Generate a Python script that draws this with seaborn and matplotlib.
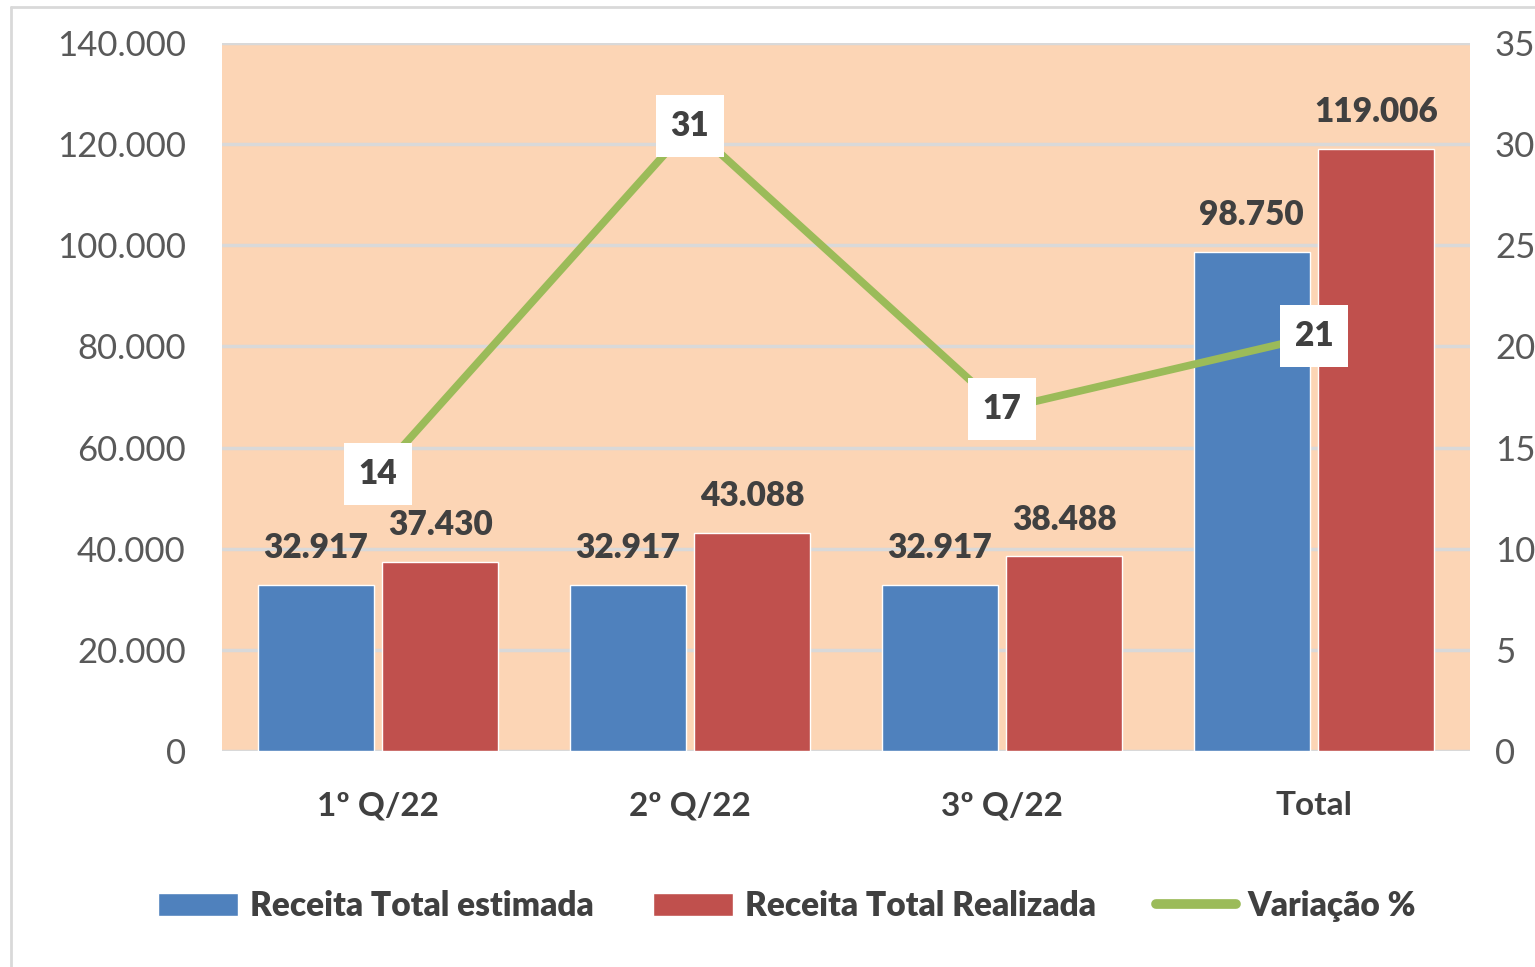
#!/usr/bin/env python3
# -*- coding: utf-8 -*-

import numpy as np
import pandas as pd
import matplotlib
matplotlib.use("Agg")
import matplotlib.pyplot as plt
from matplotlib import font_manager
from matplotlib.lines import Line2D
from matplotlib.patches import Patch
import seaborn as sns

# dados
categorias = ["1º Q/22", "2º Q/22", "3º Q/22", "Total"]
receita_estimada = [32917, 32917, 32917, 98750]
receita_realizada = [37430, 43088, 38488, 119006]
variacao = [13.7, 30.9, 16.9, 20.5]
series = ["Receita Total estimada", "Receita Total Realizada"]
y_ticks = [0, 20000, 40000, 60000, 80000, 100000, 120000, 140000]
y2_ticks = [0, 5, 10, 15, 20, 25, 30, 35]

AZUL = "#4F81BD"
VERMELHO = "#C0504D"
VERDE = "#9BBB59"
FUNDO = "#FCD5B5"
GRADE = "#D9D9D9"
TEXTO = "#404040"
TICK = "#595959"

sns.set_style("white")
nomes = {f.name for f in font_manager.fontManager.ttflist}
fonte = "Lato" if "Lato" in nomes else "DejaVu Sans"
plt.rcParams["font.family"] = [fonte, "DejaVu Sans"]


def milhar(v):
    return f"{v:,.0f}".replace(",", ".")


df = pd.DataFrame({
    "categoria": categorias * 2,
    "serie": [series[0]] * len(categorias) + [series[1]] * len(categorias),
    "valor": receita_estimada + receita_realizada,
})

fig = plt.figure(figsize=(15.35, 9.67), dpi=100)
ax = fig.add_axes([222 / 1535, 1 - 751 / 967, (1470 - 222) / 1535, (751 - 43) / 967])
ax.set_facecolor(FUNDO)

sns.barplot(data=df, x="categoria", y="valor", hue="serie",
            palette=[AZUL, VERMELHO], width=0.8, gap=0.07,
            saturation=1, ax=ax, legend=False)

ax.set_ylim(0, 140000)
ax.set_xlim(-0.5, len(categorias) - 0.5)
ax.set_yticks(y_ticks)
ax.set_yticklabels([milhar(t) for t in y_ticks], fontsize=25, color=TICK)
ax.yaxis.grid(True, color=GRADE, linewidth=2.5)
ax.set_axisbelow(True)
ax.tick_params(axis="y", length=0, pad=26)
ax.tick_params(axis="x", length=0, pad=29)
for lbl in ax.get_xticklabels():
    lbl.set_fontweight("bold")
    lbl.set_fontsize(24)
    lbl.set_color(TEXTO)
ax.set_xlabel("")
ax.set_ylabel("")
for s in ax.spines.values():
    s.set_visible(False)

for cont, vals in zip(ax.containers, [receita_estimada, receita_realizada]):
    ax.bar_label(cont, labels=[milhar(v) for v in vals], padding=15,
                 fontsize=24, fontweight="heavy", color=TEXTO)

# eixo secundario com a variacao
ax2 = ax.twinx()
sns.lineplot(x=np.arange(len(categorias)), y=variacao, color=VERDE,
             linewidth=5.5, ax=ax2)
ax2.set_ylim(0, 35)
ax2.set_yticks(y2_ticks)
ax2.set_yticklabels([str(t) for t in y2_ticks], fontsize=25, color=TICK)
ax2.tick_params(axis="y", length=0, pad=18)
for s in ax2.spines.values():
    s.set_visible(False)

for i, v in enumerate(variacao):
    ax2.text(i, v, str(int(v + 0.5)), ha="center", va="center",
             fontsize=24, fontweight="heavy", color=TEXTO,
             bbox=dict(boxstyle="square,pad=0.45", fc="white", ec="none"))

handles = [
    Patch(facecolor=AZUL, label=series[0]),
    Patch(facecolor=VERMELHO, label=series[1]),
    Line2D([0], [0], color=VERDE, linewidth=7, solid_capstyle="round", label="Variação %"),
]
leg = fig.legend(handles=handles, loc="center", bbox_to_anchor=(787 / 1535, 1 - 906 / 967),
                 ncol=3, frameon=False, handlelength=2.4, handleheight=0.7,
                 handletextpad=0.35, columnspacing=1.8,
                 prop={"family": fonte, "weight": "heavy", "size": 24})
for t in leg.get_texts():
    t.set_color(TEXTO)

# moldura cinza do grafico
fig.add_artist(Line2D([11 / 1535, 11 / 1535], [0, 1 - 7 / 967], color=GRADE, linewidth=2,
                      transform=fig.transFigure))
fig.add_artist(Line2D([11 / 1535, 1], [1 - 7 / 967, 1 - 7 / 967], color=GRADE, linewidth=2,
                      transform=fig.transFigure))

fig.savefig("out.png", dpi=100)
